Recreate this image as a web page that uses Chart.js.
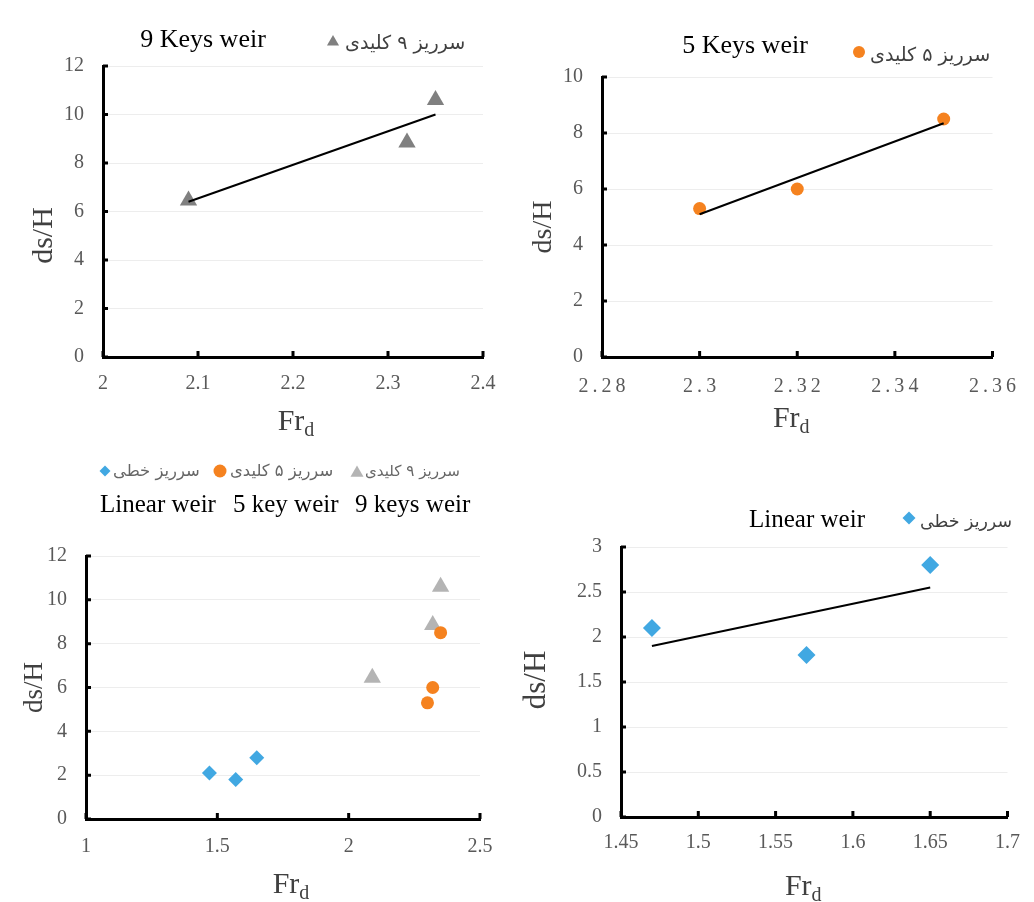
<!DOCTYPE html>
<html>
<head>
<meta charset="utf-8">
<script src="https://cdn.jsdelivr.net/npm/chart.js@4.4.1/dist/chart.umd.min.js"></script>
<style>
  body { margin: 0; background: #fff; width: 1034px; height: 902px; position: relative; overflow: hidden; }
  canvas { position: absolute; }
</style>
</head>
<body>
<canvas id="c9" width="517" height="445" style="left:0;top:0"></canvas>
<canvas id="c5" width="517" height="445" style="left:517px;top:0"></canvas>
<canvas id="cAll" width="517" height="452" style="left:0;top:450px"></canvas>
<canvas id="cLin" width="517" height="452" style="left:517px;top:450px"></canvas>
<script>
const SERIF = '"Liberation Serif", "Times New Roman", serif';
const FA = '"DejaVu Sans", sans-serif';

// measured points (Fr_d, ds/H)
const frLinear = [1.47, 1.57, 1.65];
const dsLinear = [2.1, 1.8, 2.8];
const fr5 = [2.30, 2.32, 2.35];
const ds5 = [5.3, 6.0, 8.5];
const fr9 = [2.09, 2.32, 2.35];
const ds9 = [6.45, 8.85, 10.6];

// trend lines, start / end
const trendLinearX = [1.47, 1.65];
const trendLinearY = [1.9, 2.55];
const trend5X = [2.30, 2.35];
const trend5Y = [5.1, 8.35];
const trend9X = [2.09, 2.35];
const trend9Y = [6.4, 10.0];

const faLabels = ['سرریز خطی', 'سرریز ۵ کلیدی', 'سرریز ۹ کلیدی'];
const enLabels = ['Linear weir', '5 key weir', '9 keys weir'];
const headings = ['9 Keys weir', '5 Keys weir', 'Linear weir'];

// tick labels
const xTicks9 = ['2', '2.1', '2.2', '2.3', '2.4'];
const yTicks9 = ['0', '2', '4', '6', '8', '10', '12'];
const xTicks5 = ['2.28', '2.3', '2.32', '2.34', '2.36'];
const yTicks5 = ['0', '2', '4', '6', '8', '10'];
const xTicksAll = ['1', '1.5', '2', '2.5'];
const yTicksAll = ['0', '2', '4', '6', '8', '10', '12'];
const xTicksLin = ['1.45', '1.5', '1.55', '1.6', '1.65', '1.7'];
const yTicksLin = ['0', '0.5', '1', '1.5', '2', '2.5', '3'];

const BLUE = '#41a8e2', ORANGE = '#f5821f', GRAY = '#808080', LIGHTGRAY = '#b4b4b4';

const pts = (xs, ys) => xs.map((x, i) => ({ x, y: ys[i] }));

function scatterSet(label, xs, ys, color, style, r) {
    return {
        label, data: pts(xs, ys), order: 1,
        backgroundColor: color, borderColor: color,
        pointStyle: style, pointRadius: r, pointHoverRadius: r, pointBorderWidth: 0
    };
}

function trendSet(xs, ys) {
    return {
        label: 'trend', data: pts(xs, ys), order: 0, showLine: true,
        borderColor: '#000', borderWidth: 2, pointRadius: 0, fill: false
    };
}

function axis(labels, size, horizontal, pad, spaced) {
    return {
        type: 'linear',
        min: +labels[0],
        max: +labels[labels.length - 1],
        afterBuildTicks: s => { s.ticks = labels.map(v => ({ value: +v })); },
        afterFit: s => { if (horizontal) s.height = size; else s.width = size; },
        ticks: {
            autoSkip: false, maxRotation: 0, padding: pad, color: '#595959',
            font: { family: SERIF, size: 20 },
            callback: (v, i) => spaced ? labels[i].split('').join('\u2009') : labels[i]
        },
        grid: { color: '#ededed', drawTicks: false, drawOnChartArea: !horizontal },
        border: { color: '#000', width: 3 }
    };
}

function fitText(ctx, text, x, y, width, family) {
    ctx.font = '16px ' + family;
    const size = 16 * width / ctx.measureText(text).width;
    ctx.font = size.toFixed(1) + 'px ' + family;
    ctx.fillText(text, x, y);
}

// headings, legends, inner tick marks and axis titles (Fr with subscript d)
const decor = {
    id: 'decor',
    afterDraw(chart, args, o) {
        const { ctx, chartArea: a, scales: { x: sx, y: sy } } = chart;
        ctx.save();

        // tick marks pointing into the plot
        ctx.strokeStyle = '#000';
        ctx.lineWidth = 3;
        ctx.beginPath();
        sx.ticks.forEach(t => {
            const px = sx.getPixelForValue(t.value);
            ctx.moveTo(px, a.bottom);
            ctx.lineTo(px, a.bottom - 6);
        });
        sy.ticks.forEach(t => {
            const py = sy.getPixelForValue(t.value);
            ctx.moveTo(a.left, py);
            ctx.lineTo(a.left + 5, py);
        });
        ctx.stroke();

        ctx.textBaseline = 'alphabetic';

        if (o.heading) {
            ctx.fillStyle = '#000';
            ctx.textAlign = 'center';
            ctx.font = o.heading.size + 'px ' + SERIF;
            ctx.fillText(o.heading.text, o.heading.x, o.heading.y);
        }

        (o.legend || []).forEach(it => {
            const ds = chart.data.datasets[it.ds];
            ctx.fillStyle = ds.backgroundColor;
            Chart.helpers.drawPoint(ctx, { pointStyle: ds.pointStyle, radius: it.r, rotation: 0, borderWidth: 0 }, it.mx, it.my);
            ctx.fillStyle = o.legendColor;
            ctx.textAlign = 'left';
            fitText(ctx, ds.label, it.tx, it.ty, it.tw, FA);
        });

        (o.captions || []).forEach(c => {
            ctx.fillStyle = '#000';
            ctx.textAlign = 'left';
            ctx.font = c.size + 'px ' + SERIF;
            ctx.fillText(c.text, c.x, c.y);
        });

        // y title
        ctx.save();
        ctx.fillStyle = '#404040';
        ctx.font = o.yTitle.size + 'px ' + SERIF;
        ctx.textAlign = 'center';
        ctx.translate(o.yTitle.x, (a.top + a.bottom) / 2 + o.yTitle.dy);
        ctx.rotate(-Math.PI / 2);
        ctx.fillText('ds/H', 0, 0);
        ctx.restore();

        // x title Fr_d
        ctx.fillStyle = '#404040';
        ctx.textAlign = 'left';
        ctx.font = '30px ' + SERIF;
        const w1 = ctx.measureText('Fr').width;
        ctx.font = '20px ' + SERIF;
        const w2 = ctx.measureText('d').width;
        const x0 = (a.left + a.right) / 2 - (w1 + w2) / 2 + o.xTitle.dx;
        const y0 = a.bottom + o.xTitle.dy;
        ctx.font = '30px ' + SERIF;
        ctx.fillText('Fr', x0, y0);
        ctx.font = '20px ' + SERIF;
        ctx.fillText('d', x0 + w1, y0 + 6);
        ctx.restore();
    }
};

function makeChart(id, cfg) {
    return new Chart(document.getElementById(id), {
        type: 'scatter',
        data: { datasets: cfg.datasets },
        options: {
            responsive: false,
            animation: false,
            events: [],
            layout: { padding: cfg.padding },
            plugins: { legend: { display: false }, tooltip: { enabled: false }, decor: cfg.decor },
            scales: {
                x: axis(cfg.xTicks, cfg.xHeight, true, cfg.xPad, cfg.spaced),
                y: axis(cfg.yTicks, cfg.yWidth, false, 19, false)
            }
        },
        plugins: [decor]
    });
}

// 9 keys
makeChart('c9', {
    datasets: [scatterSet(faLabels[2], fr9, ds9, GRAY, 'triangle', 10), trendSet(trend9X, trend9Y)],
    padding: { top: 66, right: 34, bottom: 0, left: 0 },
    xTicks: xTicks9, yTicks: yTicks9, xHeight: 88, yWidth: 103, xPad: 15,
    decor: {
        heading: { text: headings[0], x: 203, y: 47, size: 26 },
        legend: [{ ds: 0, r: 7, mx: 333, my: 42, tx: 345, ty: 49, tw: 120 }],
        legendColor: '#404040',
        yTitle: { x: 52, dy: 24, size: 30 },
        xTitle: { dx: 3, dy: 73 }
    }
});

// 5 keys
makeChart('c5', {
    datasets: [scatterSet(faLabels[1], fr5, ds5, ORANGE, 'circle', 6.5), trendSet(trend5X, trend5Y)],
    padding: { top: 77, right: 30, bottom: 0, left: 0 },
    xTicks: xTicks5, yTicks: yTicks5, xHeight: 88, yWidth: 85, xPad: 18, spaced: true,
    decor: {
        heading: { text: headings[1], x: 228, y: 53, size: 26 },
        legend: [{ ds: 0, r: 6, mx: 342, my: 52, tx: 353, ty: 61, tw: 120 }],
        legendColor: '#404040',
        yTitle: { x: 34, dy: 10, size: 28 },
        xTitle: { dx: -6, dy: 70 }
    }
});

// all weirs together
makeChart('cAll', {
    datasets: [
        scatterSet(faLabels[0], frLinear, dsLinear, BLUE, 'rectRot', 7.5),
        scatterSet(faLabels[1], fr5, ds5, ORANGE, 'circle', 6.5),
        scatterSet(faLabels[2], fr9, ds9, LIGHTGRAY, 'triangle', 10)
    ],
    padding: { top: 106, right: 37, bottom: 0, left: 0 },
    xTicks: xTicksAll, yTicks: yTicksAll, xHeight: 83, yWidth: 86, xPad: 16,
    decor: {
        legend: [
            { ds: 0, r: 5.5, mx: 105, my: 21, tx: 113, ty: 26, tw: 87 },
            { ds: 1, r: 6.5, mx: 220, my: 21, tx: 230, ty: 26, tw: 103 },
            { ds: 2, r: 7.5, mx: 357, my: 23, tx: 365, ty: 26, tw: 95 }
        ],
        legendColor: '#666',
        captions: [
            { text: enLabels[0], x: 100, y: 62, size: 25 },
            { text: enLabels[1], x: 233, y: 62, size: 25 },
            { text: enLabels[2], x: 355, y: 62, size: 25 }
        ],
        yTitle: { x: 42, dy: 0, size: 27 },
        xTitle: { dx: 8, dy: 74 }
    }
});

// linear weir
makeChart('cLin', {
    datasets: [scatterSet(faLabels[0], frLinear, dsLinear, BLUE, 'rectRot', 9), trendSet(trendLinearX, trendLinearY)],
    padding: { top: 97, right: 15, bottom: 0, left: 0 },
    xTicks: xTicksLin, yTicks: yTicksLin, xHeight: 85, yWidth: 104, xPad: 14,
    decor: {
        heading: { text: headings[2], x: 290, y: 77, size: 25 },
        legend: [{ ds: 0, r: 6.5, mx: 392, my: 68, tx: 403, ty: 77, tw: 92 }],
        legendColor: '#404040',
        yTitle: { x: 28, dy: -2, size: 31 },
        xTitle: { dx: -11, dy: 78 }
    }
});
</script>
</body>
</html>
